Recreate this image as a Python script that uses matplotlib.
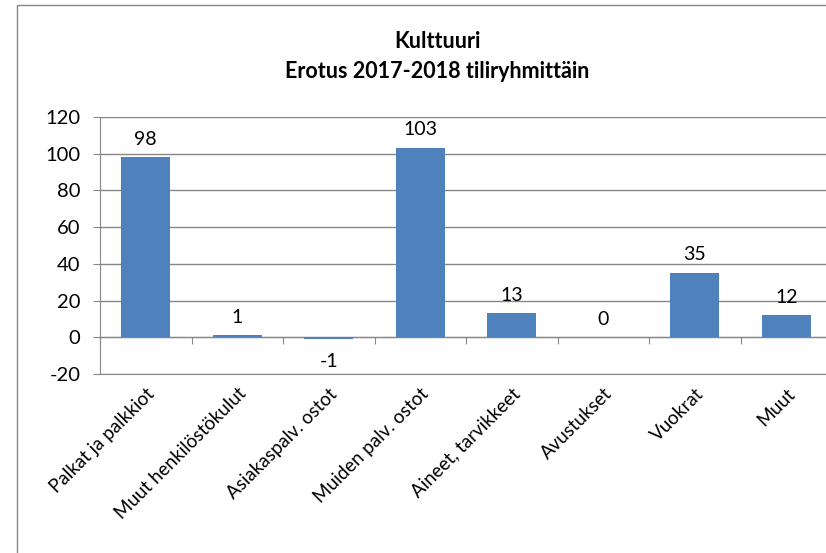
import matplotlib.pyplot as plt
import matplotlib.patches as mpatches
import numpy as np

plt.rcParams['font.family'] = ['Lato', 'DejaVu Sans']
plt.rcParams['axes.unicode_minus'] = False

# tiliryhmät ja erotukset
kategoriat = ['Palkat ja palkkiot', 'Muut henkilöstökulut', 'Asiakaspalv. ostot',
              'Muiden palv. ostot', 'Aineet, tarvikkeet', 'Avustukset', 'Vuokrat', 'Muut']
erotus = [98, 1, -1, 103, 13, 0, 35, 12]
y_ticks = [-20, 0, 20, 40, 60, 80, 100, 120]

W, H = 826, 553
fig = plt.figure(figsize=(W / 100, H / 100), dpi=100)

# ulkokehys
kehys = mpatches.Rectangle((17 / W, -0.1), 1.0, 1 - 5 / H + 0.1, transform=fig.transFigure,
                           fill=False, edgecolor='#878787', linewidth=1)
fig.patches.append(kehys)

ax = fig.add_axes([100 / W, (H - 374) / H, 732 / W, 257 / H])
x = np.arange(len(kategoriat))
ax.bar(x, erotus, width=0.54, color='#4F81BD', zorder=3)

for xi, v in zip(x, erotus):
    if v < 0:
        ax.annotate(str(v), (xi, v), xytext=(0, -10), textcoords='offset points',
                    ha='center', va='top', fontsize=14)
    else:
        ax.annotate(str(v), (xi, v), xytext=(0, 7), textcoords='offset points',
                    ha='center', va='bottom', fontsize=14)

ax.set_xlim(-0.5, len(kategoriat) - 0.5)
ax.set_ylim(-20, 120)
ax.set_yticks(y_ticks)
ax.yaxis.grid(True, color='#868686', linewidth=1, zorder=0)
ax.set_axisbelow(True)
ax.tick_params(axis='y', direction='out', length=5, color='#868686', labelsize=14.5, pad=9)

ax.set_xticks(x)
ax.set_xticklabels(kategoriat, rotation=45, ha='right', rotation_mode='anchor', fontsize=13.5)
ax.tick_params(axis='x', length=0, pad=8)

for s in ['top', 'right']:
    ax.spines[s].set_visible(False)
ax.spines['left'].set_color('#868686')
ax.spines['bottom'].set_color('#868686')

# nollaviiva ja luokkarajat
nolla = ax.secondary_xaxis(20 / 140)
nolla.set_xticks(np.arange(len(kategoriat) + 1) - 0.5)
nolla.set_xticklabels([])
nolla.tick_params(direction='out', length=5, color='#868686')
nolla.spines['bottom'].set_color('#868686')

fig.text(437 / W, 1 - 42 / H, 'Kulttuuri', ha='center', va='center',
         fontsize=15.5, fontweight='bold')
fig.text(437 / W, 1 - 72 / H, 'Erotus 2017-2018 tiliryhmittäin', ha='center', va='center',
         fontsize=15.5, fontweight='bold')

fig.savefig('out.png', dpi=100)
